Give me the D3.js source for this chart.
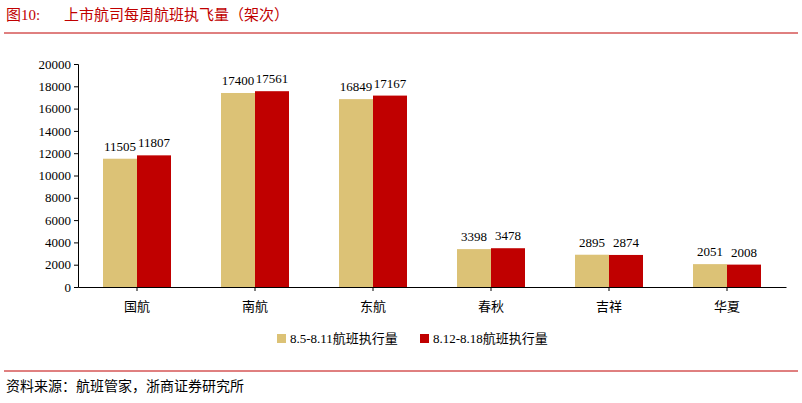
<!DOCTYPE html><html><head><meta charset="utf-8">
<script src="https://cdn.jsdelivr.net/npm/d3@7"></script>
<style>body{margin:0;background:#fff}text{font-family:"Liberation Serif","Noto Sans CJK SC",serif}</style></head><body>
<svg id="c" width="802" height="403"></svg>
<script>
const categories=["国航","南航","东航","春秋","吉祥","华夏"];
const seriesNames=["8.5-8.11航班执行量","8.12-8.18航班执行量"];
const s1=[11505,17400,16849,3398,2895,2051];
const s2=[11807,17561,17167,3478,2874,2008];
const yTicks=[0,2000,4000,6000,8000,10000,12000,14000,16000,18000,20000];
const colors=["#DCC276","#C00000"];
const svg=d3.select("#c");
svg.append("text").attr("x",6).attr("y",20).attr("fill","#C00000").attr("font-size",15).text("图10:");
svg.append("text").attr("x",64).attr("y",20).attr("fill","#C00000").attr("font-size",15).text("上市航司每周航班执飞量（架次）");
svg.append("line").attr("x1",4).attr("x2",798).attr("y1",33).attr("y2",33).attr("stroke","#C00000").attr("stroke-width",1);
svg.append("line").attr("x1",4).attr("x2",798).attr("y1",371).attr("y2",371).attr("stroke","#C00000").attr("stroke-width",1);
svg.append("text").attr("x",6).attr("y",391).attr("font-size",14).text("资料来源：航班管家，浙商证券研究所");
const x=d3.scaleBand().domain(categories).range([78,786]);
const y=d3.scaleLinear().domain([0,20000]).range([287,64]);
const g=svg.append("g");
g.append("g").attr("transform","translate(78,0)").call(d3.axisLeft(y).tickValues(yTicks).tickSize(4).tickFormat(d3.format("d")))
 .call(a=>{a.selectAll("text").attr("font-size",13).attr("fill","#000");a.selectAll("line,path").attr("stroke","#000");});
g.append("g").attr("transform","translate(0,287)").call(d3.axisBottom(x).tickSize(4).tickSizeOuter(0))
 .call(a=>{a.selectAll("text").attr("font-size",13).attr("fill","#000").attr("dy","1.3em");a.selectAll("line,path").attr("stroke","#000");});
const bw=34;
[s1,s2].forEach((s,i)=>{
 categories.forEach((c,j)=>{
  const cx=x(c)+x.bandwidth()/2;
  const x0=cx-bw+i*bw;
  g.append("rect").attr("x",x0).attr("y",y(s[j])).attr("width",bw).attr("height",287-y(s[j])).attr("fill",colors[i]);
  g.append("text").attr("x",x0+bw/2).attr("y",y(s[j])-8).attr("text-anchor","middle").attr("font-size",13).text(s[j]);
 });
});
const leg=svg.append("g");
[[277,0],[420,1]].forEach(([lx,i])=>{
 leg.append("rect").attr("x",lx).attr("y",334).attr("width",9).attr("height",9).attr("fill",colors[i]);
 leg.append("text").attr("x",lx+13).attr("y",343).attr("font-size",13).text(seriesNames[i]);
});
</script></body></html>
